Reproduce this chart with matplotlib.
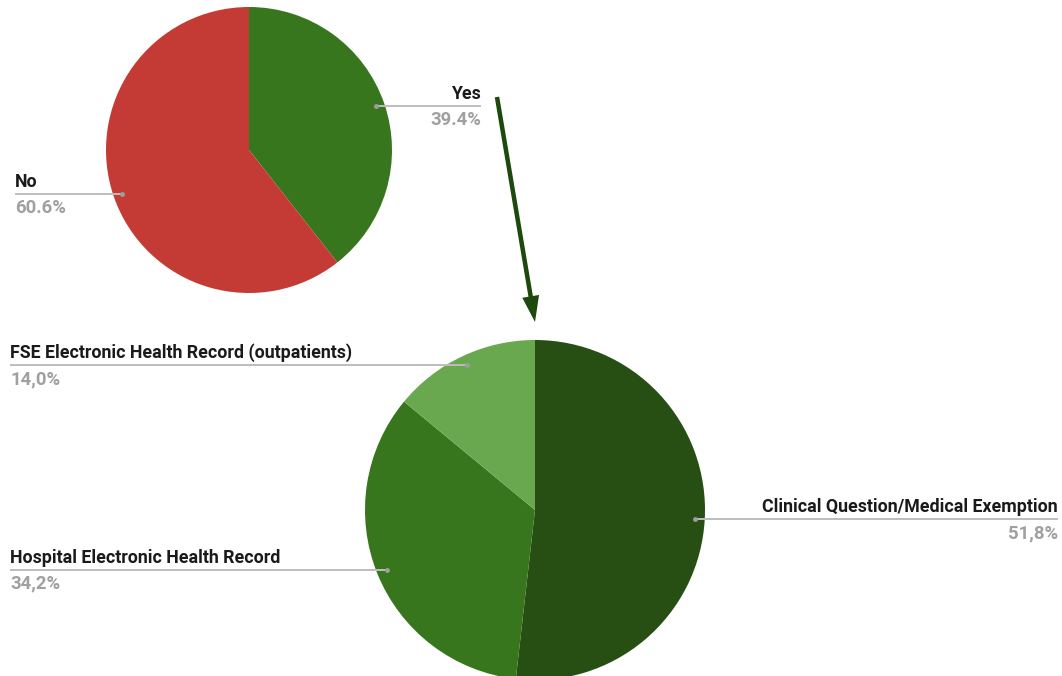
import numpy as np
import matplotlib
matplotlib.use("Agg")
import matplotlib.pyplot as plt

plt.rcParams['font.family'] = ['Roboto', 'DejaVu Sans']

# Question 1: answered "Yes" / "No"
top_labels = ["Yes", "No"]
top_values = [39.4, 60.6]
top_pct_text = ["39.4%", "60.6%"]
top_colors = ["#38761d", "#c43a35"]

# Follow-up for "Yes": where the information is recorded
bottom_labels = ["Clinical Question/Medical Exemption",
                 "Hospital Electronic Health Record",
                 "FSE Electronic Health Record (outpatients)"]
bottom_values = [51.8, 34.2, 14.0]
bottom_pct_text = ["51,8%", "34,2%", "14,0%"]
bottom_colors = ["#274e13", "#38761d", "#6aa84f"]

W, H = 1062, 676
fig = plt.figure(figsize=(W / 100, H / 100), dpi=100)
ax = fig.add_axes([0, 0, 1, 1])

LINE_C = "#bdbdbd"
PCT_C = "#a0a0a0"
FS = 12.8
FS_PCT = 13.3


def draw_pie(values, colors, cx, cy, r):
    ax.pie(values, colors=colors, startangle=90, counterclock=False,
           center=(cx, H - cy), radius=r,
           wedgeprops=dict(linewidth=0))
    # mid angle of each wedge (degrees, math convention)
    fr = np.array(values) / np.sum(values)
    ends = 90 - 360 * np.cumsum(fr)
    starts = ends + 360 * fr
    return (starts + ends) / 2


def leader(cx, cy, r, ang, label, pct, side, x_end):
    px = cx + 0.94 * r * np.cos(np.radians(ang))
    py = H - cy + 0.94 * r * np.sin(np.radians(ang))
    ax.plot([px, x_end], [py, py], color=LINE_C, lw=1.4,
            solid_capstyle='butt', zorder=3)
    ax.plot([px], [py], 'o', color="#9e9e9e", ms=2.5, zorder=4)
    ha = 'left' if side == 'left' else 'right'
    ax.text(x_end, py + 3, label, ha=ha, va='bottom', fontsize=FS,
            fontweight='bold', color="#1a1a1a")
    ax.text(x_end, py - 5, pct, ha=ha, va='top', fontsize=FS_PCT,
            fontweight='bold', color=PCT_C)


# top pie
tcx, tcy, tr = 249, 150, 143
mids = draw_pie(top_values, top_colors, tcx, tcy, tr)
leader(tcx, tcy, tr, mids[0], top_labels[0], top_pct_text[0], 'right', 481)
leader(tcx, tcy, tr, mids[1], top_labels[1], top_pct_text[1], 'left', 15)

# bottom pie
bcx, bcy, br = 535, 510, 170
mids = draw_pie(bottom_values, bottom_colors, bcx, bcy, br)
leader(bcx, bcy, br, mids[0], bottom_labels[0], bottom_pct_text[0], 'right', 1058)
leader(bcx, bcy, br, mids[1], bottom_labels[1], bottom_pct_text[1], 'left', 10)
leader(bcx, bcy, br, mids[2], bottom_labels[2], bottom_pct_text[2], 'left', 10)

# arrow linking "Yes" to its breakdown
x0, y0, x1, y1 = 497, H - 97, 535, H - 322
ax.arrow(x0, y0, x1 - x0, y1 - y0, width=4.5, head_width=17,
         head_length=26, length_includes_head=True,
         color="#1d4a0c", linewidth=0, zorder=5)

ax.set_xlim(0, W)
ax.set_ylim(0, H)
ax.set_aspect('equal')
ax.set_axis_off()
fig.savefig("out.png", dpi=100, facecolor="white")
